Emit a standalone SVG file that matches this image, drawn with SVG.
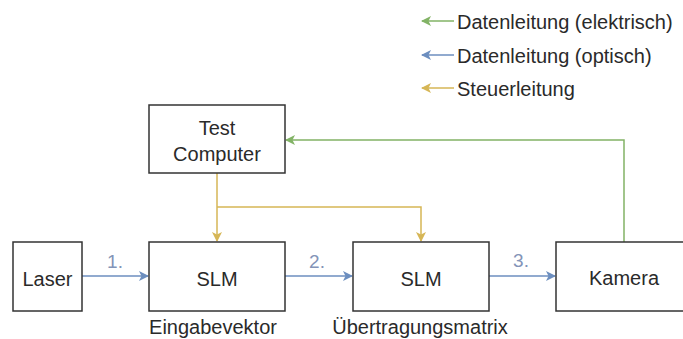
<svg xmlns="http://www.w3.org/2000/svg" width="683" height="339" viewBox="0 0 683 339">
<style>
.box{fill:#fff;stroke:#333;stroke-width:1.5}
.t{font-family:"Liberation Sans",Arial,sans-serif;font-size:20px;fill:#2a2a2a;text-anchor:middle}
.lt{font-family:"Liberation Sans",Arial,sans-serif;font-size:20px;fill:#2a2a2a}
.num{font-family:"Liberation Sans",Arial,sans-serif;font-size:19px;fill:#8394b8;text-anchor:middle}
.g{stroke:#82b366;fill:none;stroke-width:1.5}
.b{stroke:#6c8ebf;fill:none;stroke-width:1.5}
.y{stroke:#d6b656;fill:none;stroke-width:1.5}
</style>
<defs>
<marker id="ag" markerWidth="10" markerHeight="10" refX="9" refY="5" orient="auto" markerUnits="userSpaceOnUse"><path d="M0,0 L10,5 L0,10 L2.5,5 Z" fill="#82b366"/></marker>
<marker id="ab" markerWidth="10" markerHeight="10" refX="9" refY="5" orient="auto" markerUnits="userSpaceOnUse"><path d="M0,0 L10,5 L0,10 L2.5,5 Z" fill="#6c8ebf"/></marker>
<marker id="ay" markerWidth="10" markerHeight="10" refX="9" refY="5" orient="auto" markerUnits="userSpaceOnUse"><path d="M0,0 L10,5 L0,10 L2.5,5 Z" fill="#d6b656"/></marker>
</defs>
<rect width="683" height="339" fill="#fff"/>
<g id="legend">
<line class="g" x1="454" y1="21" x2="422" y2="21" marker-end="url(#ag)"/>
<text class="lt" x="457" y="29">Datenleitung (elektrisch)</text>
<line class="b" x1="454" y1="55" x2="422" y2="55" marker-end="url(#ab)"/>
<text class="lt" x="457" y="63">Datenleitung (optisch)</text>
<line class="y" x1="454" y1="88" x2="422" y2="88" marker-end="url(#ay)"/>
<text class="lt" x="457" y="96">Steuerleitung</text>
</g>
<g id="connectors">
<polyline class="g" points="624,242 624,140 286,140" marker-end="url(#ag)"/>
<line class="y" x1="217" y1="173" x2="217" y2="241" marker-end="url(#ay)"/>
<polyline class="y" points="217,207 421,207 421,241" marker-end="url(#ay)"/>
<line class="b" x1="82" y1="276" x2="148" y2="276" marker-end="url(#ab)"/>
<line class="b" x1="285" y1="276" x2="352" y2="276" marker-end="url(#ab)"/>
<line class="b" x1="489" y1="276" x2="555" y2="276" marker-end="url(#ab)"/>
<text class="num" x="115" y="268">1.</text>
<text class="num" x="317" y="268">2.</text>
<text class="num" x="521" y="267">3.</text>
</g>
<g id="computer">
<rect class="box" x="149" y="105" width="136" height="68"/>
<text class="t" x="217" y="135">Test</text>
<text class="t" x="217" y="161">Computer</text>
</g>
<g id="laser">
<rect class="box" x="13" y="242" width="69" height="69"/>
<text class="t" x="47.5" y="286">Laser</text>
</g>
<g id="slm1">
<rect class="box" x="149" y="242" width="136" height="69"/>
<text class="t" x="217" y="286">SLM</text>
<text class="t" x="213" y="334">Eingabevektor</text>
</g>
<g id="slm2">
<rect class="box" x="353" y="242" width="136" height="69"/>
<text class="t" x="421" y="286">SLM</text>
<text class="t" x="420" y="334">Übertragungsmatrix</text>
</g>
<g id="kamera">
<rect class="box" x="556" y="242" width="136" height="69"/>
<text class="t" x="624" y="285">Kamera</text>
</g>
</svg>
